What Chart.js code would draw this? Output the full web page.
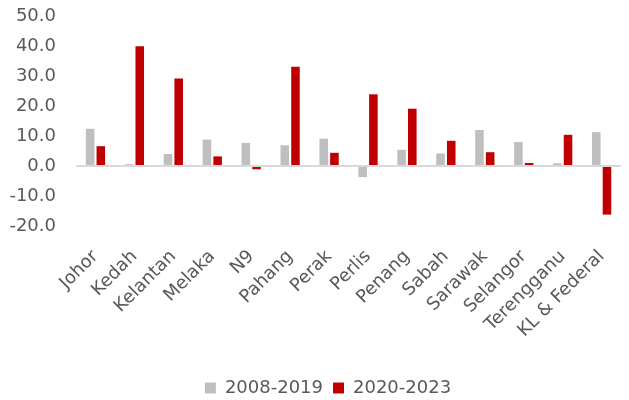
<!DOCTYPE html>
<html>
<head>
<meta charset="utf-8">
<script src="https://cdn.jsdelivr.net/npm/chart.js@4/dist/chart.umd.min.js"></script>
<style>
  html, body { margin: 0; padding: 0; background: #fff; }
  #wrap { width: 629px; height: 400px; }
</style>
</head>
<body>
<div id="wrap"><canvas id="states"></canvas></div>
<script>
const states = ["Johor", "Kedah", "Kelantan", "Melaka", "N9", "Pahang", "Perak",
    "Perlis", "Penang", "Sabah", "Sarawak", "Selangor", "Terengganu", "KL & Federal"];
const period2008to2019 = [12.4, 0.6, 4.0, 8.8, 7.7, 6.9, 9.1, -3.7, 5.4, 4.2, 12.0, 8.0, 0.9, 11.3];
const period2020to2023 = [6.6, 39.9, 29.2, 3.2, -1.1, 33.1, 4.4, 23.9, 19.1, 8.4, 4.6, 1.0, 10.4, -16.2];
const yTicks = [-20, -10, 0, 10, 20, 30, 40, 50];

const fontFamily = "'DejaVu Sans', sans-serif";
const textColor = '#595959';

// nudge the legend so it sits under the middle of the plot rather than the canvas
const legendShift = {
    id: 'legendShift',
    afterLayout(chart) {
        chart.legend.left += 15;
        chart.legend.right += 15;
    },
};

new Chart(document.getElementById("states"), {
    type: "bar",
    plugins: [legendShift],
    data: {
        labels: states,
        datasets: [
            {
                label: "2008-2019",
                data: period2008to2019,
                backgroundColor: '#bfbfbf',
            },
            {
                label: "2020-2023",
                data: period2020to2023,
                backgroundColor: '#c00000',
            },
        ],
    },
    options: {
        responsive: true,
        maintainAspectRatio: false,
        animation: false,
        categoryPercentage: 0.55,
        barPercentage: 0.8,
        layout: {
            padding: { top: 16, right: 3, left: 0, bottom: -7 },
        },
        plugins: {
            tooltip: { enabled: false },
            legend: {
                position: 'bottom',
                labels: {
                    color: textColor,
                    font: { family: fontFamily, size: 18 },
                    boxWidth: 11,
                    boxHeight: 11,
                    padding: 10,
                },
            },
        },
        scales: {
            x: {
                grid: { display: false },
                border: { display: false },
                ticks: {
                    color: textColor,
                    font: { family: fontFamily, size: 18 },
                    minRotation: 45,
                    maxRotation: 45,
                    padding: 12,
                },
                afterFit: (scale) => { scale.height = 143; },
            },
            y: {
                min: -20,
                max: 50,
                afterBuildTicks: (scale) => {
                    scale.ticks = yTicks.map((v) => ({ value: v }));
                },
                border: { display: false },
                grid: {
                    drawTicks: false,
                    // only the zero line is shown
                    color: (ctx) => ctx.tick && ctx.tick.value === 0 ? '#d9d9d9' : 'rgba(0,0,0,0)',
                    lineWidth: 2,
                },
                ticks: {
                    color: textColor,
                    font: { family: fontFamily, size: 18 },
                    padding: 20,
                    callback: (v) => Number(v).toFixed(1),
                },
                afterFit: (scale) => {
                    scale.width = 76;
                    // tick padding should not shrink the plot vertically
                    scale.paddingTop = 0;
                    scale.paddingBottom = 0;
                },
            },
        },
    },
});
</script>
</body>
</html>
